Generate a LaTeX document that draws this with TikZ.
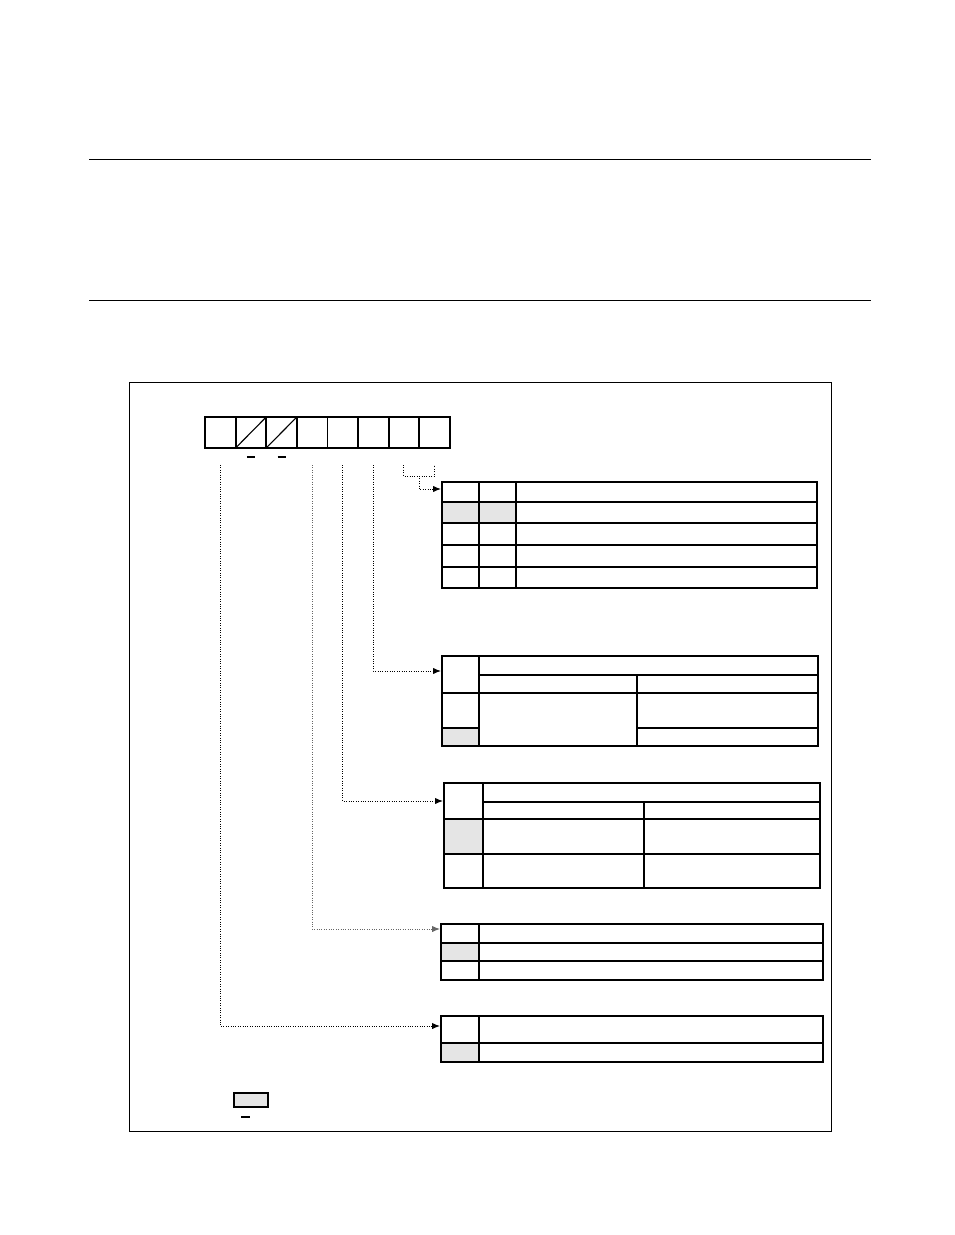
\documentclass[tikz,border=0pt]{standalone}
\usepackage{tikz}
\usetikzlibrary{positioning}
\usetikzlibrary{arrows.meta}
\tikzset{regcell/.style={draw,line width=1.3pt,minimum width=0.765cm,minimum height=0.775cm,inner sep=0pt,outer sep=0pt},
lead/.style={densely dotted,line width=0.7pt,-{Latex[length=2mm,width=1.6mm]}},
tout/.style={line width=1.4pt},
tin/.style={line width=0.8pt},
shade/.style={fill=black!10},
rule/.style={line width=0.6pt}}

\begin{document}
\begin{tikzpicture}[x=0.025cm,y=-0.025cm]
\useasboundingbox (0,0) rectangle (954,1235);

\draw[rule] (89,159) -- (871,159);
\draw[rule] (89,300) -- (871,300);
\draw[rule] (129,382) rectangle (831,1131);

% register bits 7..0
\node (b0) at (220.3,432.5) [regcell] {};
\foreach \i [count=\j from 0] in {1,...,7}
  \node (b\i) [regcell, right=0pt of b\j] {};
\draw[tin] (b1.south west) -- (b1.north east);
\draw[tin] (b2.south west) -- (b2.north east);
\draw[tin] ([shift={(-4,9)}]b1.south) -- ([shift={(4,9)}]b1.south);
\draw[tin] ([shift={(-4,9)}]b2.south) -- ([shift={(4,9)}]b2.south);

\foreach \i in {0,3,4,5,6,7}
  \coordinate (s\i) at ([shift={(0,17)}]b\i.south);
\coordinate (m01) at (419,476);

% table targets
\coordinate (t1) at (441,489);
\coordinate (t2) at (441,671);
\coordinate (t3) at (443,801);
\coordinate (t4) at (440,929);
\coordinate (t5) at (440,1026);

% leaders
\draw[densely dotted,line width=0.7pt] (s6) -- (s6 |- m01) -- (s7 |- m01) -- (s7);
\draw[lead] (m01) |- (t1);
\draw[lead] (s5) |- (t2);
\draw[lead] (s4) |- (t3);
\draw[lead,black!60] (s3) |- (t4);
\draw[lead] (s0) |- (t5);

% table 1
\fill[shade] (442,502) rectangle (516,523);
\draw[tin] (479,482) -- (479,588) (516,482) -- (516,588);
\draw[tin] (442,523) -- (817,523) (442,545) -- (817,545) (442,567) -- (817,567);
\draw[tout] (442,502) -- (817,502);
\draw[tout] (442,482) rectangle (817,588);

% table 2
\fill[shade] (442,728) rectangle (479,746);
\draw[tin] (479,656) -- (479,746) (637,675) -- (637,746);
\draw[tin] (479,675) -- (818,675) (442,693) -- (818,693);
\draw[tin] (442,728) -- (479,728) (637,728) -- (818,728);
\draw[tout] (442,656) rectangle (818,746);

% table 3
\fill[shade] (444,819) rectangle (483,854);
\draw[tin] (483,783) -- (483,888) (644,802) -- (644,888);
\draw[tin] (483,802) -- (820,802) (444,819) -- (820,819) (444,854) -- (820,854);
\draw[tin] (444,783) rectangle (820,888);
\draw[tout] (444,783) -- (444,888) -- (820,888);

% table 4
\fill[shade] (441,943) rectangle (479,961);
\draw[tin] (479,924) -- (479,980) (441,961) -- (823,961);
\draw[tout] (441,943) -- (823,943);
\draw[tin] (441,924) rectangle (823,980);

% table 5
\fill[shade] (441,1043) rectangle (479,1062);
\draw[tin] (479,1016) -- (479,1062) (441,1043) -- (823,1043);
\draw[tin] (441,1016) rectangle (823,1062);
\draw[tout] (441,1016) -- (823,1016);

% legend
\draw[tin,shade] (234,1093) rectangle (268,1107);
\draw[tout] (234,1107) -- (268,1107);
\draw[tin] (241,1117) -- (250,1117);
\end{tikzpicture}
\end{document}
